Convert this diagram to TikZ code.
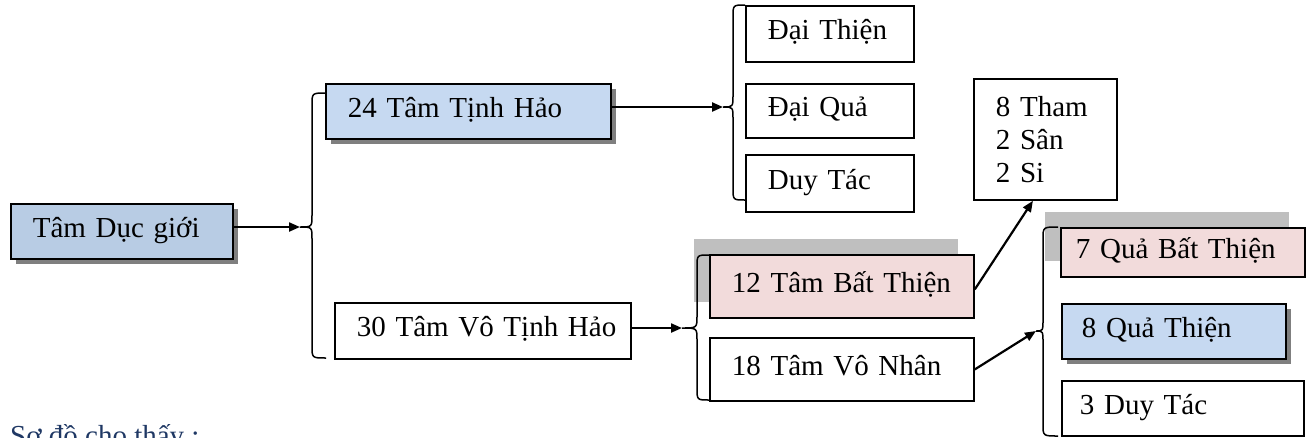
\documentclass[tikz,border=0pt]{standalone}
\usepackage{fontspec}
\setmainfont{Liberation Serif}
\usetikzlibrary{arrows.meta,shadows,calc}
\definecolor{blueA}{HTML}{B8CCE4}
\definecolor{blueB}{HTML}{C6D9F1}
\definecolor{pinkA}{HTML}{F2DBDB}
\definecolor{greyA}{HTML}{BFBFBF}
\definecolor{greyB}{HTML}{7F7F7F}
\definecolor{navy}{HTML}{1F3864}
\tikzset{
  box/.style={draw, line width=1.8pt, rectangle, inner xsep=22pt, inner ysep=0pt,
    align=left, text height=19.5pt, text depth=7.5pt, anchor=north west,
    font=\fontsize{29}{33}\selectfont},
  multibox/.style={draw, line width=1.8pt, rectangle, inner xsep=22pt, inner ysep=0pt,
    align=left, anchor=north west, font=\fontsize{29}{33}\selectfont},
  bluebox/.style={box, fill=#1, drop shadow={shadow xshift=5pt, shadow yshift=-5pt, fill=greyB, opacity=1}},
  pinkbox/.style={box, fill=pinkA, drop shadow={shadow xshift=-16pt, shadow yshift=16pt, fill=greyA, opacity=1}},
  brace/.style={draw, line width=1.5pt},
  conn/.style={draw, line width=2.2pt, -{Triangle[length=11pt,width=9pt]}}
}
% #1 end x, #2 vertical x, #3 top y, #4 tip coordinate name, #5 tip y, #6 bottom y
\newcommand\wordbrace[6]{%
  \draw[brace] (#1,#3) .. controls (#2,#3) .. ($(#2,#3)+(0,12)$)
    -- ($(#2,#5)+(0,-12)$) .. controls (#2,#5) .. (#4)
    .. controls (#2,#5) .. ($(#2,#5)+(0,12)$)
    -- ($(#2,#6)+(0,-12)$) .. controls (#2,#6) .. (#1,#6);}
\begin{document}
\begin{tikzpicture}[x=1pt,y=-1pt]
\useasboundingbox (0,0) rectangle (1309,437);
% nodes
\node[bluebox=blueA, text width=178pt, minimum height=55pt] (dg) at (10,203) {\mbox{Tâm Dục giới}};
\node[bluebox=blueB, text width=241pt, minimum height=55pt] (tth) at (325,83) {\mbox{24 Tâm Tịnh Hảo}};
\node[box, text width=252pt, minimum height=56pt] (vth) at (334,302) {\mbox{30 Tâm Vô Tịnh Hảo}};
\node[box, text width=124pt, minimum height=56pt] (dthien) at (745,5) {\mbox{Đại Thiện}};
\node[box, text width=124pt, minimum height=54pt] (dqua) at (745,83) {\mbox{Đại Quả}};
\node[box, text width=124pt, minimum height=57pt] (dtac) at (745,154) {\mbox{Duy Tác}};
\node[pinkbox, text width=220pt, minimum height=63pt] (bt) at (709,254) {\mbox{12 Tâm Bất Thiện}};
\node[box, text width=220pt, minimum height=63pt] (vn) at (709,337) {\mbox{18 Tâm Vô Nhân}};
\node[multibox, text width=99pt, minimum height=121pt] (tham) at (973,78) {8 Tham\\2 Sân\\2 Si};
\node[pinkbox, inner xsep=15pt, text width=214pt, minimum height=49pt] (qbt) at (1060,227) {\mbox{7 Quả Bất Thiện}};
\node[bluebox=blueB, inner xsep=20pt, text width=184pt, minimum height=55pt] (qt) at (1061,303) {\mbox{8 Quả Thiện}};
\node[box, inner xsep=18pt, text width=206pt, minimum height=55pt] (dtac3) at (1061,380) {\mbox{3 Duy Tác}};
% brace tips
\coordinate (t1) at (300,227);
\coordinate (t2) at (723,107);
\coordinate (t3) at (682,328);
\coordinate (t4) at (1036,331);
% braces
\wordbrace{326}{312}{93}{t1}{227}{358}
\wordbrace{745}{733}{5}{t2}{107}{200}
\wordbrace{709}{697}{255}{t3}{328}{400}
\wordbrace{1058}{1043}{227}{t4}{331}{436}
% connectors
\draw[conn] (dg.east |- t1) -- (t1);
\draw[conn] (tth.east |- t2) -- (t2);
\draw[conn] (vth.east |- t3) -- (t3);
\draw[conn] ([yshift=-3pt]bt.east) -- ([xshift=-12.5pt]tham.south);
\draw[conn] (vn.east) -- (t4);
% caption
\node[anchor=base west, inner sep=0pt, text=navy, font=\fontsize{29}{33}\selectfont] (cap) at (10,445) {Sơ đồ cho thấy :};
\end{tikzpicture}
\end{document}
